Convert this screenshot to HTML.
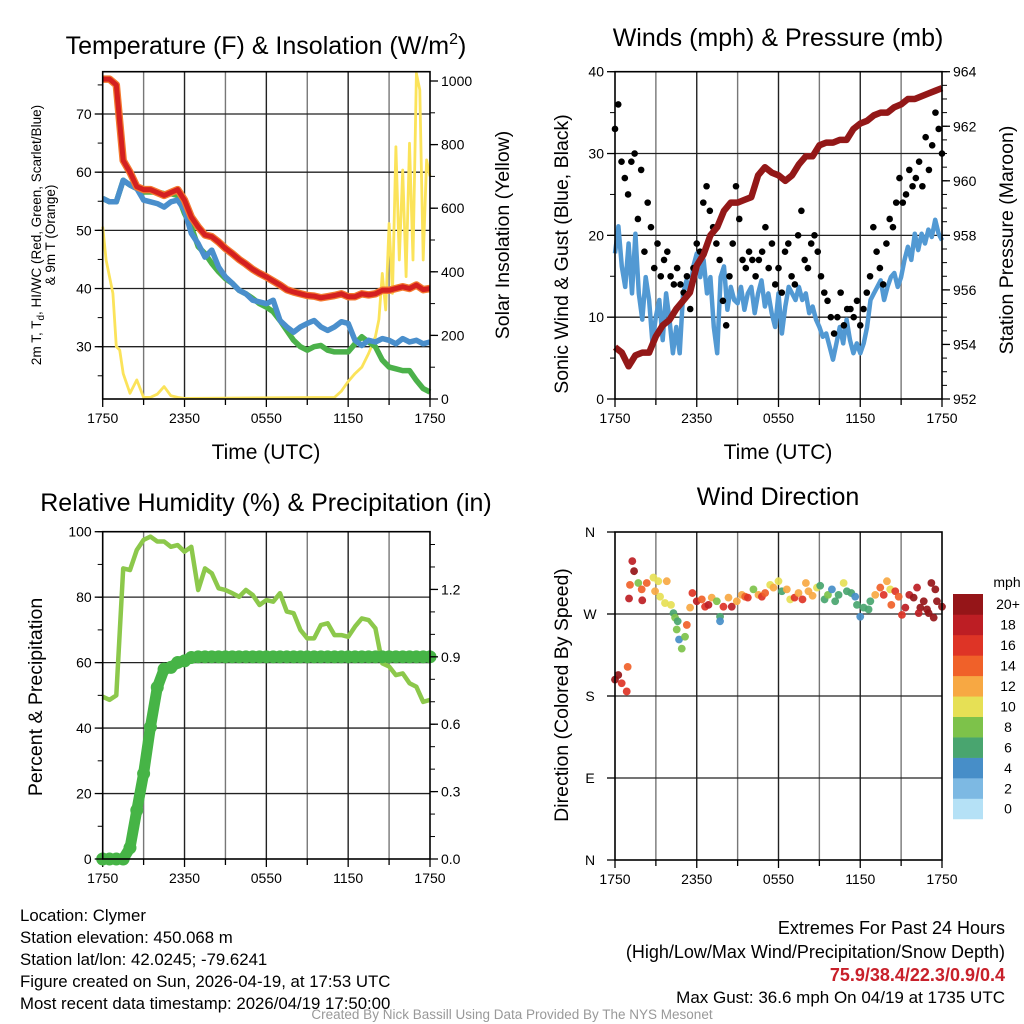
<!DOCTYPE html>
<html><head><meta charset="utf-8"><style>
html,body{margin:0;padding:0;background:#fff}
svg{display:block;font-family:"Liberation Sans",sans-serif}
</style></head><body>
<svg id="s" width="1024" height="1024" viewBox="0 0 1024 1024" xmlns="http://www.w3.org/2000/svg">
<rect width="1024" height="1024" fill="#fff"/>
<g font-size="25" text-anchor="middle" fill="#000">
<text x="266" y="54">Temperature (F) &amp; Insolation (W/m<tspan font-size="16" dy="-10">2</tspan><tspan dy="10">)</tspan></text>
<text x="778" y="46">Winds (mph) &amp; Pressure (mb)</text>
<text x="266" y="511">Relative Humidity (%) &amp; Precipitation (in)</text>
<text x="778" y="505">Wind Direction</text>
</g>
<g font-size="21" text-anchor="middle">
<text x="266" y="459">Time (UTC)</text>
<text x="778" y="459">Time (UTC)</text>
</g>
<g font-size="19.5" text-anchor="middle">
<text transform="translate(509,235) rotate(-90)">Solar Insolation (Yellow)</text>
<text transform="translate(568,254) rotate(-90)">Sonic Wind &amp; Gust (Blue, Black)</text>
<text transform="translate(1013,240) rotate(-90)">Station Pressure (Maroon)</text>
<text transform="translate(42,697) rotate(-90)">Percent &amp; Precipitation</text>
<text transform="translate(568,695) rotate(-90)">Direction (Colored By Speed)</text>
</g>
<g font-size="13.5" text-anchor="middle">
<text transform="translate(41,235) rotate(-90)">2m T, T<tspan font-size="10" dy="3">d</tspan><tspan dy="-3">, HI/WC (Red, Green, Scarlet/Blue)</tspan></text>
<text transform="translate(55,235) rotate(-90)">&amp; 9m T (Orange)</text>
</g>
<g font-size="16.8" fill="#000">
<text x="20" y="921">Location: Clymer</text>
<text x="20" y="943">Station elevation: 450.068 m</text>
<text x="20" y="965">Station lat/lon: 42.0245; -79.6241</text>
<text x="20" y="987">Figure created on Sun, 2026-04-19, at 17:53 UTC</text>
<text x="20" y="1009">Most recent data timestamp: 2026/04/19 17:50:00</text>
</g>
<g text-anchor="end" fill="#000">
<text x="1005" y="934" font-size="18">Extremes For Past 24 Hours</text>
<text x="1005" y="958" font-size="18">(High/Low/Max Wind/Precipitation/Snow Depth)</text>
<text x="1005" y="981" font-size="18" fill="#c8202a" font-weight="bold">75.9/38.4/22.3/0.9/0.4</text>
<text x="1005" y="1003" font-size="17">Max Gust: 36.6 mph On 04/19 at 1735 UTC</text>
</g>
<text x="512" y="1019" font-size="13.5" fill="#999" text-anchor="middle">Created By Nick Bassill Using Data Provided By The NYS Mesonet</text>
</svg>
<script>
const timeTicks=['1750','2350','0550','1150','1750'];
const p1LeftTicks=[30,40,50,60,70];
const p1RightTicks=[0,200,400,600,800,1000];
const p2LeftTicks=[0,10,20,30,40];
const p2RightTicks=[952,954,956,958,960,962,964];
const p3LeftTicks=[0,20,40,60,80,100];
const p3RightTicks=['0.0','0.3','0.6','0.9','1.2'];
const p4Ticks=['N','E','S','W','N'];
const tempRed=[76,76,75,62,60,57.5,57,57,56.5,56,56.5,57,55.2,52.3,50.6,49.2,48.9,48,46.9,46,45,44.2,43.3,42.6,42,41.3,40.6,39.8,39.4,39.1,38.8,38.7,38.4,38.6,38.8,39.1,38.6,38.6,39.1,38.9,39.1,39.7,39.7,40,40.3,40,40.6,39.8,40];
const dewGreen=[55.5,54.9,54.9,58.6,57.8,57.2,56.6,56.6,56.6,56.3,56.3,56,52.9,50.6,47.2,46,44.3,42.9,41.7,40.9,39.7,39.1,38.3,37.4,36.8,36,34.5,32.8,31.1,30,29.4,30,30.2,29.4,29.1,29.1,29.1,30.5,31.7,30.8,30,27.7,26.5,26.2,25.9,25.9,24.2,22.8,22.2];
const hiwcBlue=[55.5,54.9,54.9,58.6,57.8,57.2,55.2,54.9,54.6,54,54.9,55.2,53.5,49.5,47.7,45.4,46.6,43.7,42,40.9,39.7,39.1,38,37.7,37.4,38,34.5,33.4,32.5,33.4,34,34.5,33.4,32.8,33.4,34.3,34,31.1,30.2,31.1,30.8,31.4,31.1,30.5,31.4,30.8,31.1,30.5,30.8];
const solarTime=[0,0.25,0.5,0.75,1,1.25,1.5,2,2.5,3,3.5,4,4.5,5,5.5,6,17,17.5,18,18.5,19,19.5,20,20.25,20.5,20.75,21,21.25,21.5,21.75,22,22.25,22.5,22.75,23,23.25,23.5,23.75,24];
const solarVal=[542,437,385,332,165,154,80,18,60,5,5,15,39,10,5,2,5,25,55,80,100,143,196,250,395,280,552,332,793,437,720,385,804,437,1024,972,437,752,700];
const windBlue=[17.8,21.1,16.2,13.7,19,12.9,20.2,12.9,9.7,14.9,12.1,6.8,10.1,12.1,7.2,12.9,9.7,5.6,8.8,5.6,12.9,14.5,12.9,16.2,17.8,14.9,17,12.9,14.9,8.8,5.6,14.9,16.2,10.9,13.7,12.1,11.7,13.7,10.9,12.9,13.7,10.5,12.9,14.5,11.3,12.9,10.5,8.8,12.9,8,11.3,13.7,12.9,12.1,13.7,12.1,12.9,10.5,11.3,9.7,8.8,7.6,8,6.4,4.8,6.8,8.8,6.8,9.7,7.2,5.6,6.8,5.6,6.8,8.8,12.1,12.9,13.7,14.5,12.1,13.7,14.9,15.4,13.7,14.9,17,18.6,17,20.2,18.2,20.2,19,20.7,19.8,21.9,20.2,19.4];
const gustBlack=[33,36,29,27,25,29,30,22,28,18,24,21,16,19,15,17,18,15,14,16,14,13,15,11,16,19,18,24,26,23,21,19,17,12,9,15,19,26,22,17,16,18,17,15,17,18,21,16,19,14,16,13,18,19,15,14,20,23,17,16,19,20,18,15,13,12,10,8,10,13,9,11,11,10,12,9,11,13,15,21,18,16,14,19,22,21,24,27,24,25,28,26,27,29,26,32,28,31,35,33,30];
const pressure=[953.9,953.7,953.2,953.6,953.7,953.7,954.3,954.7,954.9,955.3,955.6,955.9,956.9,957.3,958,958.3,958.9,959.2,959.2,959.3,959.4,960.2,960.5,960.3,960.2,960,960.2,960.6,960.9,960.9,961.3,961.4,961.4,961.5,961.5,961.9,962.1,962.2,962.4,962.5,962.5,962.7,962.8,963,963,963.1,963.2,963.3,963.4];
const humidity=[49.6,48.6,50,88.8,88.3,94.4,97.5,98.5,97,97,95.4,95.9,93.9,95.4,82.2,88.8,87.3,82.7,82.2,81.2,80.1,82.2,80.7,77.6,79.1,78.6,81.2,75.6,75.1,70,67.4,67.4,71.5,72,68.4,68.4,67.9,71,73.5,73,70.5,59.8,58.8,56.2,56.7,53.7,52.6,48,48.6];
const precip=[0,0,0,0,0.05,0.217,0.38,0.587,0.764,0.845,0.853,0.875,0.882,0.897,0.9,0.9,0.9,0.9,0.9,0.9,0.9,0.9,0.9,0.9,0.9,0.9,0.9,0.9,0.9,0.9,0.9,0.9,0.9,0.9,0.9,0.9,0.9,0.9,0.9,0.9,0.9,0.9,0.9,0.9,0.9,0.9,0.9,0.9,0.9];
const dirTime=[0,0.24,0.49,0.86,0.93,1.27,1.4,1.1,1.71,1.03,2.0,1.96,2.33,2.82,3.18,3.8,2.94,3.31,3.67,4.11,4.29,4.41,4.6,4.53,4.7,5.14,4.9,5.27,5.51,5.68,6.0,6.37,6.61,6.86,7.1,7.47,7.71,7.71,7.96,8.33,8.57,8.94,9.31,9.55,9.75,10.16,10.53,10.78,11.02,11.39,11.63,12.0,12.25,12.61,12.86,13.18,13.47,13.76,14.01,14.2,14.5,14.82,15.06,15.38,15.63,15.92,16.16,16.41,16.78,17.02,17.34,17.63,17.76,18.0,18.25,18.61,18.74,19.1,19.47,19.72,19.96,20.2,20.28,20.57,20.82,21.06,21.31,21.6,21.92,22.17,22.41,22.66,22.9,23.22,23.39,23.51,23.63,24.0,22.29,23.02];
const dirDeg=[198,203,194,185,212,328,317,302,304,287,285,297,304,310,306,306,295,289,282,280,271,266,262,253,242,245,232,258,277,293,284,286,278,280,288,284,267,262,278,288,278,284,291,289,288,297,291,289,293,302,299,306,295,297,286,288,293,286,304,295,290,299,301,286,291,297,284,291,304,295,293,289,280,267,277,275,284,291,299,291,306,297,280,295,289,269,277,291,288,299,277,284,275,304,266,297,284,278,271,271];
const dirSpeed=[20,20,17,16,14,18,20,14,8,18,18,14,15,10,10,12,12,10,10,10,6,8,6,8,4,8,8,14,12,16,18,14,16,18,12,8,6,4,16,12,18,12,12,14,16,8,12,16,14,10,12,10,6,12,10,16,12,16,12,12,12,10,6,6,8,4,6,6,10,6,6,4,6,4,6,6,6,12,14,16,12,10,14,16,14,16,18,18,20,18,20,20,20,20,20,20,20,20,18,20];
const speedBins=['0','2','4','6','8','10','12','14','16','18','20+'];
const speedColors=['#b5e1f6','#7db9e3','#478ec8','#49a56f','#7dc24a','#e6e055','#f7a843','#f06129','#de3426','#bd1e24','#951518'];

const NS='http://www.w3.org/2000/svg';
const svg=document.getElementById('s');
function mk(tag,attrs,parent){const e=document.createElementNS(NS,tag);for(const k in attrs)e.setAttribute(k,attrs[k]);(parent||svg).appendChild(e);return e;}
function lin(d0,d1,r0,r1){return v=>r0+(v-d0)/(d1-d0)*(r1-r0);}

function frame(name,x0,y0,x1,y1,hLines,yFn){
  const g=mk('g',{});
  
  
  const xs=lin(0,24,x0,x1);
  for(let h=3;h<24;h+=3){
    const l=mk('line',{x1:xs(h),x2:xs(h),y1:y0,y2:y1,stroke:(h%6==0)?'#222':'#777','stroke-width':1.4},g);
    
    
  }
  hLines.forEach(v=>{
    const y=yFn(v);
    const l=mk('line',{x1:x0,x2:x1,y1:y,y2:y,stroke:'#222','stroke-width':1.3},g);
    
    
  });
  for(let h=0;h<=24;h+=3){
    const t=mk('line',{x1:xs(h),x2:xs(h),y1:y1,y2:y1+(h%6==0?8:6),stroke:'#000','stroke-width':1.3},g);
    
    
  }
  timeTicks.forEach((s,i)=>{
    const t=mk('text',{x:xs(i*6),y:y1+24,'font-size':14,'text-anchor':'middle'},g);
    t.textContent=s;
    
    
  });
  return {g,xs};
}
function border(name,x0,y0,x1,y1){
  const r=mk('rect',{x:x0,y:y0,width:x1-x0,height:y1-y0,fill:'none',stroke:'#000','stroke-width':1.6});
  
  
}
function yAxis(name,x,ys,ticks,labels,minorStep,lo,hi,side){
  const dir=side=='left'?-1:1;
  ticks.forEach((v,i)=>{
    const y=ys(v);
    const t=mk('line',{x1:x,x2:x+dir*8,y1:y,y2:y,stroke:'#000','stroke-width':1.3});
    
    
    const tx=mk('text',{x:x+dir*11,y:y+5,'font-size':14,'text-anchor':side=='left'?'end':'start'});
    tx.textContent=labels[i];
    
    
  });
  if(minorStep){
    for(let v=Math.ceil(lo/minorStep)*minorStep;v<=hi+1e-9;v+=minorStep){
      const m=mk('line',{x1:x,x2:x+dir*5,y1:ys(v),y2:ys(v),stroke:'#000','stroke-width':1});
      
      
    }
  }
}
function path(pts){return pts.map((p,i)=>(i?'L':'M')+p[0].toFixed(1)+','+p[1].toFixed(1)).join('');}
function series(vals,xs,ys){const st=24/(vals.length-1);return vals.map((v,i)=>[xs(i*st),ys(v)]);}

// Panel 1
(function(){
  const X0=102.7,X1=430,Y0=71.7,Y1=399;
  const yl=lin(30,70,346.7,114), yr=lin(0,1000,399,81);
  const {xs}=frame('temp',X0,Y0,X1,Y1,p1LeftTicks,yl);
  const sp=mk('path',{d:path(solarTime.map((t,i)=>[xs(t),Math.max(Y0,yr(solarVal[i]))])),fill:'none',stroke:'#fbe35a','stroke-width':2.8,'stroke-linejoin':'round'});
  
  
  const gp=mk('path',{d:path(series(dewGreen,xs,yl)),fill:'none',stroke:'#4bb14a','stroke-width':5.5,'stroke-linejoin':'round'});
  
  
  const bp=mk('path',{d:path(series(hiwcBlue,xs,yl)),fill:'none',stroke:'#4a8fcc','stroke-width':5.5,'stroke-linejoin':'round'});
  
  
  const op=mk('path',{d:path(series(tempRed,xs,yl)),fill:'none',stroke:'#f47a30','stroke-width':7.5,'stroke-linejoin':'round'});
  
  
  const rp=mk('path',{d:path(series(tempRed,xs,yl)),fill:'none',stroke:'#d42020','stroke-width':5,'stroke-linejoin':'round'});
  
  
  border('temp',X0,Y0,X1,Y1);
  yAxis('temp-left',X0,yl,p1LeftTicks,p1LeftTicks,5,21.1,77,'left');
  yAxis('solar-right',X1,yr,p1RightTicks,p1RightTicks,100,0,1000,'right');
})();
// Panel 2
(function(){
  const X0=615,X1=942,Y0=71.7,Y1=399;
  const yl=lin(0,40,Y1,Y0), yr=lin(952,964,Y1,Y0);
  const {xs}=frame('wind',X0,Y0,X1,Y1,p2LeftTicks.slice(1,4),yl);
  const bp=mk('path',{d:path(series(windBlue,xs,yl)),fill:'none',stroke:'#5299d3','stroke-width':4.5,'stroke-linejoin':'round'});
  
  
  const st=24/(gustBlack.length-1);
  gustBlack.forEach((v,i)=>{
    const c=mk('circle',{cx:xs(i*st),cy:yl(v),r:3.3,fill:'#000'});
    
    
  });
  const pp=mk('path',{d:path(series(pressure,xs,yr)),fill:'none',stroke:'#931818','stroke-width':6.5,'stroke-linejoin':'round'});
  
  
  border('wind',X0,Y0,X1,Y1);
  yAxis('wind-left',X0,yl,p2LeftTicks,p2LeftTicks,5,0,40,'left');
  yAxis('pressure-right',X1,yr,p2RightTicks,p2RightTicks,0.5,952,964,'right');
})();
// Panel 3
(function(){
  const X0=102.7,X1=430,Y0=531.7,Y1=859;
  const yl=lin(0,100,Y1,Y0), yr=lin(0,1.457,Y1,Y0);
  const {xs}=frame('rh',X0,Y0,X1,Y1,p3LeftTicks.slice(1,5),yl);
  const hp=mk('path',{d:path(series(humidity,xs,yl)),fill:'none',stroke:'#8cc84b','stroke-width':4.5,'stroke-linejoin':'round'});
  
  
  const pl=mk('path',{d:path(series(precip,xs,yr)),fill:'none',stroke:'#46b446','stroke-width':11,'stroke-linejoin':'round','stroke-linecap':'round'});
  
  
  series(precip,xs,yr).forEach(p=>{
    const c=mk('circle',{cx:p[0],cy:p[1],r:6.5,fill:'#46b446'});
    
    
  });
  border('rh',X0,Y0,X1,Y1);
  yAxis('rh-left',X0,yl,p3LeftTicks,p3LeftTicks,10,0,100,'left');
  yAxis('precip-right',X1,yr,p3RightTicks.map(Number),p3RightTicks,0.1,0,1.4,'right');
})();
// Panel 4
(function(){
  const X0=615,X1=942,Y0=532,Y1=860;
  const yd=lin(0,360,Y1,Y0);
  const {xs}=frame('dir',X0,Y0,X1,Y1,[90,180,270],yd);
  dirTime.forEach((t,i)=>{
    const b=Math.min(10,Math.floor(dirSpeed[i]/2));
    const c=mk('circle',{cx:xs(t),cy:yd(dirDeg[i]),r:3.9,fill:speedColors[b],'fill-opacity':0.92});
    
    
  });
  border('dir',X0,Y0,X1,Y1);
  p4Ticks.forEach((s,i)=>{
    const y=yd(i*90);
    const t=mk('line',{x1:X0,x2:X0-8,y1:y,y2:y,stroke:'#000','stroke-width':1.3});
    
    
    const tx=mk('text',{x:590,y:y+5,'font-size':14,'text-anchor':'middle'});
    tx.textContent=s;
    
    
  });
  const u=mk('text',{x:1007,y:587,'font-size':14,'text-anchor':'middle'});
  u.textContent='mph';
  
  
  const h=20.45;
  speedBins.forEach((s,i)=>{
    const y=594+(10-i)*h;
    const r=mk('rect',{x:953,y:y,width:30,height:h+0.3,fill:speedColors[i]});
    
    
    const tx=mk('text',{x:1008,y:y+h/2+5,'font-size':14,'text-anchor':'middle'});
    tx.textContent=s;
    
    
  });
})();
</script>
</body></html>
